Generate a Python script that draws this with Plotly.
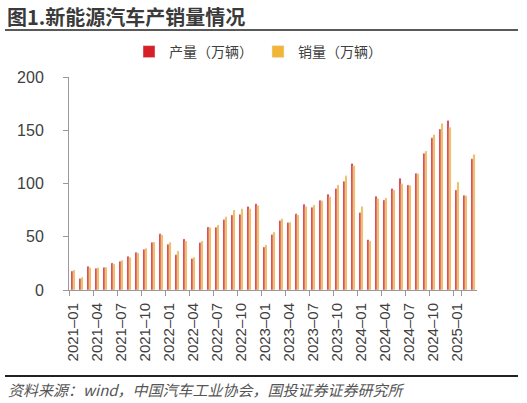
import plotly.graph_objects as go

# monthly data, 2021-01 .. 2025-03
months = ["%d-%02d" % (y, m) for y in range(2021, 2026) for m in range(1, 13)][:51]

production = [17.9, 10.7, 22.3, 20.4, 21.3, 25.4, 27.0, 31.7, 35.4, 38.2, 44.8, 52.7,
              42.9, 33.2, 48.0, 29.5, 44.5, 59.2, 58.9, 66.1, 70.5, 71.2, 78.4, 80.9,
              40.4, 52.0, 65.2, 63.3, 71.5, 80.6, 77.7, 84.3, 90.0, 95.3, 102.2, 118.8,
              72.7, 47.3, 88.1, 84.6, 95.3, 105.0, 98.7, 109.7, 128.5, 142.9, 151.1, 159.2,
              94.0, 89.0, 123.2]
sales = [18.8, 11.9, 21.0, 21.0, 21.3, 24.5, 27.9, 30.4, 34.8, 39.2, 45.1, 51.7,
         44.8, 36.7, 46.1, 30.7, 46.1, 58.6, 61.1, 68.7, 75.2, 76.2, 76.2, 79.3,
         42.3, 54.5, 66.8, 63.6, 70.5, 78.4, 79.9, 83.7, 87.5, 98.7, 107.2, 116.6,
         78.4, 46.1, 85.9, 86.5, 94.0, 99.7, 98.1, 109.1, 130.4, 145.8, 156.4, 152.7,
         101.3, 88.4, 127.3]

tick_vals = months[::3]
tick_text = [m.replace("-", "–") for m in tick_vals]

W, H = 527, 403
L, R, T, B = 69, 50, 77, 113
pw, ph = W - L - R, H - T - B

def px_x(x):  # page px -> paper
    return (x - L) / pw

def px_y(y):
    return (H - B - y) / ph

font = "Noto Sans CJK SC, Noto Sans, Arial"

fig = go.Figure()
fig.add_trace(go.Bar(x=months, y=production, name="产量（万辆）", marker_color="#D81E27"))
fig.add_trace(go.Bar(x=months, y=sales, name="销量（万辆）", marker_color="#F2B535"))

fig.update_layout(
    width=W, height=H,
    margin=dict(l=L, r=R, t=T, b=B, autoexpand=False),
    paper_bgcolor="white", plot_bgcolor="white",
    barmode="group", bargap=0.5, bargroupgap=0,
    font=dict(family=font, color="#404040"),
    showlegend=True,
    legend=dict(orientation="h", x=px_x(129), xanchor="left", y=px_y(52), yanchor="middle",
                font=dict(size=14, color="#404040"), itemwidth=30, entrywidth=84,
                traceorder="normal"),
)
fig.update_xaxes(type="category", tickmode="array", tickvals=tick_vals, ticktext=tick_text,
                 tickangle=-90, tickson="boundaries", ticks="outside", ticklen=5,
                 tickcolor="#999999", showline=True, linecolor="#999999", linewidth=1,
                 showgrid=False, ticklabelstandoff=6,
                 tickfont=dict(size=15, color="#404040", family="Liberation Sans, Arial"))
fig.update_yaxes(range=[0, 200], tickvals=[0, 50, 100, 150, 200], ticks="outside", ticklen=5,
                 tickcolor="#999999", showline=True, linecolor="#999999", linewidth=1,
                 showgrid=False, zeroline=False, ticklabelstandoff=16,
                 tickfont=dict(size=16, color="#404040", family="Liberation Sans, Arial"))

# title, rules and source
fig.add_annotation(text="<b>图1.新能源汽车产销量情况</b>", xref="paper", yref="paper",
                   x=px_x(5), y=px_y(17), xanchor="left", yanchor="middle", showarrow=False,
                   font=dict(size=20, color="#3a3a3a", family=font))
fig.add_shape(type="line", xref="paper", yref="paper", x0=px_x(5), x1=px_x(518),
              y0=px_y(30), y1=px_y(30), line=dict(color="#222222", width=1.5))
fig.add_shape(type="line", xref="paper", yref="paper", x0=px_x(5), x1=px_x(518),
              y0=px_y(376), y1=px_y(376), line=dict(color="#222222", width=2))
fig.add_annotation(text="<i>资料来源：wind，中国汽车工业协会，国投证券证券研究所</i>",
                   xref="paper", yref="paper", x=px_x(6), y=px_y(389), xanchor="left",
                   yanchor="middle", showarrow=False,
                   font=dict(size=15, color="#555555", family=font))

fig.write_html("out.html", config={"displayModeBar": False},
               post_script="document.body.style.margin='0';")
